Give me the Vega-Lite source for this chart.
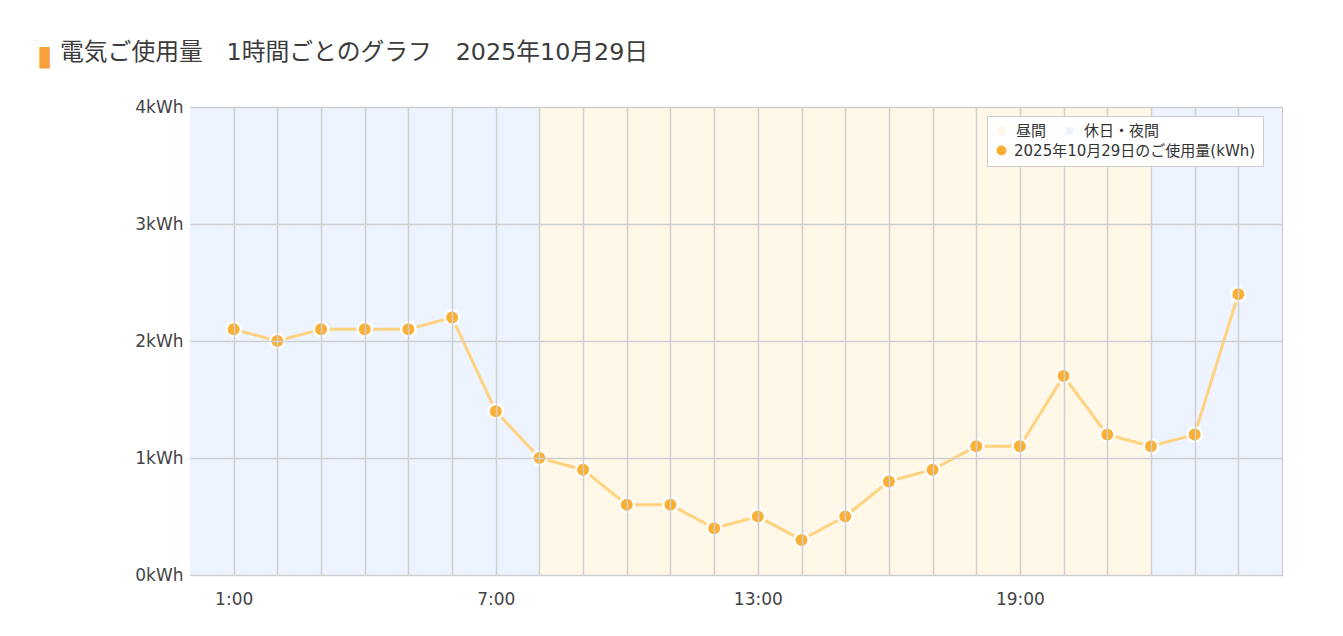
{
  "$schema": "https://vega.github.io/schema/vega-lite/v6.json",
  "autosize": "none",
  "width": 1092,
  "height": 468,
  "padding": {"left": 190, "top": 107, "right": 61, "bottom": 61},
  "background": "white",
  "title": {
    "text": "電気ご使用量　1時間ごとのグラフ　2025年10月29日",
    "anchor": "start",
    "frame": "group",
    "dx": -130,
    "offset": -23,
    "font": "DejaVu Sans, Noto Sans CJK JP",
    "fontSize": 23.8,
    "fontWeight": "normal",
    "color": "#3c3c3c"
  },
  "config": {
    "view": {"stroke": "#c8c8c8", "strokeWidth": 1},
    "font": "DejaVu Sans, Noto Sans CJK JP"
  },
  "datasets": {
    "bands": [
      {"start": 0, "end": 8, "type": "休日・夜間"},
      {"start": 8, "end": 22, "type": "昼間"},
      {"start": 22, "end": 25, "type": "休日・夜間"}
    ],
    "usage": [
      {"hour": 1, "kwh": 2.1},
      {"hour": 2, "kwh": 2.0},
      {"hour": 3, "kwh": 2.1},
      {"hour": 4, "kwh": 2.1},
      {"hour": 5, "kwh": 2.1},
      {"hour": 6, "kwh": 2.2},
      {"hour": 7, "kwh": 1.4},
      {"hour": 8, "kwh": 1.0},
      {"hour": 9, "kwh": 0.9},
      {"hour": 10, "kwh": 0.6},
      {"hour": 11, "kwh": 0.6},
      {"hour": 12, "kwh": 0.4},
      {"hour": 13, "kwh": 0.5},
      {"hour": 14, "kwh": 0.3},
      {"hour": 15, "kwh": 0.5},
      {"hour": 16, "kwh": 0.8},
      {"hour": 17, "kwh": 0.9},
      {"hour": 18, "kwh": 1.1},
      {"hour": 19, "kwh": 1.1},
      {"hour": 20, "kwh": 1.7},
      {"hour": 21, "kwh": 1.2},
      {"hour": 22, "kwh": 1.1},
      {"hour": 23, "kwh": 1.2},
      {"hour": 24, "kwh": 2.4}
    ]
  },
  "layer": [
    {
      "data": {"name": "bands"},
      "mark": {"type": "rect"},
      "encoding": {
        "x": {
          "field": "start",
          "type": "quantitative",
          "scale": {"domain": [0, 25], "nice": false, "zero": false},
          "axis": {
            "values": [1,2,3,4,5,6,7,8,9,10,11,12,13,14,15,16,17,18,19,20,21,22,23,24],
            "labelExpr": "datum.value % 6 == 1 ? datum.value + ':00' : ''",
            "title": null,
            "domain": false,
            "ticks": false,
            "grid": true,
            "gridColor": "#cfcfcf",
            "gridWidth": 1.5,
            "gridOpacity": 1,
            "labelFont": "DejaVu Sans, Noto Sans CJK JP",
            "labelFontSize": 17,
            "labelColor": "#444444",
            "labelPadding": 16,
            "labelFlush": false,
            "zindex": 1
          }
        },
        "x2": {"field": "end"},
        "y": {"datum": 0, "type": "quantitative"},
        "y2": {"datum": 4},
        "color": {
          "field": "type",
          "type": "nominal",
          "scale": {
            "domain": ["昼間", "休日・夜間"],
            "range": ["#fff8e8", "#edf3ff"]
          },
          "legend": {
            "title": null,
            "orient": "none",
            "legendX": 797,
            "legendY": 9,
            "zindex": 2,
            "direction": "horizontal",
            "padding": 7,
            "columnPadding": 15,
            "labelFont": "DejaVu Sans, Noto Sans CJK JP",
            "labelFontSize": 15,
            "labelColor": "#333333",
            "labelOffset": 7,
            "labelLimit": 0,
            "symbolType": "square",
            "symbolSize": 64,
            "symbolStrokeWidth": 0,
            "symbolOpacity": 1,
            "encode": {
              "symbols": {
                "update": {
                  "fill": {"signal": "datum.value === '昼間' ? '#f0e4b9' : '#d9e3f7'"},
                  "opacity": {"value": 1},
                  "strokeWidth": {"value": 0}
                }
              }
            }
          }
        }
      }
    },
    {
      "data": {"name": "usage"},
      "mark": {"type": "line", "color": "#ffd27f", "strokeWidth": 3},
      "encoding": {
        "x": {"field": "hour", "type": "quantitative"},
        "y": {
          "field": "kwh",
          "type": "quantitative",
          "scale": {"domain": [0, 4], "nice": false},
          "axis": {
            "values": [0, 1, 2, 3, 4],
            "labelExpr": "datum.value + 'kWh'",
            "title": "▮",
            "titleAngle": 0,
            "titleX": -146,
            "titleY": -51,
            "titleAlign": "center",
            "titleBaseline": "middle",
            "titleColor": "#f8a03a",
            "titleFont": "Noto Sans CJK JP",
            "titleFontSize": 28,
            "titleFontWeight": "normal",
            "domain": false,
            "ticks": false,
            "grid": true,
            "gridColor": "#cfcfcf",
            "gridWidth": 1.5,
            "labelFont": "DejaVu Sans, Noto Sans CJK JP",
            "labelFontSize": 17,
            "labelColor": "#444444",
            "labelPadding": 7,
            "zindex": 1
          }
        }
      }
    },
    {
      "data": {"name": "usage"},
      "mark": {"type": "point", "filled": true, "size": 210, "stroke": "white", "strokeWidth": 2.5, "opacity": 1, "shape": "circle"},
      "encoding": {
        "x": {"field": "hour", "type": "quantitative"},
        "y": {"field": "kwh", "type": "quantitative"},
        "fill": {
          "datum": "2025年10月29日のご使用量(kWh)",
          "type": "nominal",
          "scale": {"range": ["#fbb034"]},
          "legend": {
            "title": " ",
            "titleFontSize": 14,
            "titlePadding": 6,
            "orient": "none",
            "legendX": 797,
            "legendY": 9,
            "zindex": 1,
            "fillColor": "white",
            "strokeColor": "#cccccc",
            "padding": 7,
            "labelFont": "DejaVu Sans, Noto Sans CJK JP",
            "labelFontSize": 15,
            "labelColor": "#333333",
            "labelOffset": 5,
            "labelLimit": 0,
            "symbolType": "circle",
            "symbolSize": 100,
            "symbolStrokeWidth": 0,
            "symbolStrokeColor": "white"
          }
        }
      }
    }
  ]
}
